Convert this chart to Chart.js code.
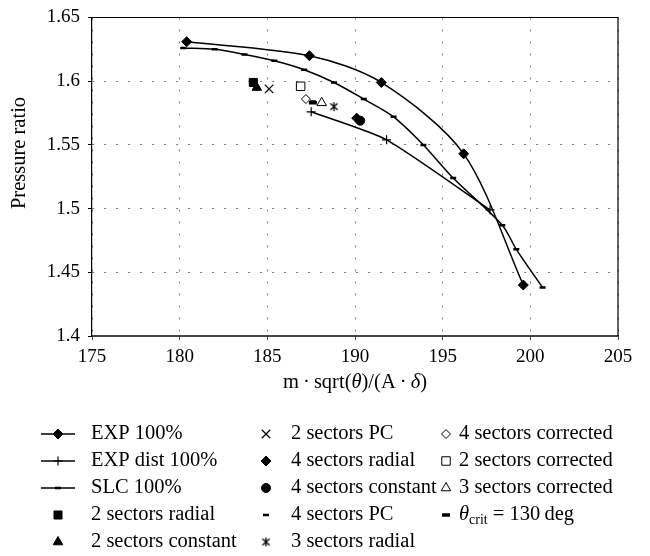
<!DOCTYPE html>
<html>
<head>
<meta charset="utf-8">
<script src="https://cdn.jsdelivr.net/npm/chart.js@4.4.0/dist/chart.umd.min.js"></script>
<style>
  body { margin: 0; background: #fff; }
  #wrap { width: 650px; height: 556px; }
</style>
</head>
<body>
<div id="wrap"><canvas id="chartPressure"></canvas></div>
<script>
// Curves
const expX = [180.4, 187.4, 191.5, 196.2, 199.6];
const expY = [1.631, 1.620, 1.599, 1.543, 1.440];
const distX = [187.5, 191.8, 197.7];
const distY = [1.576, 1.554, 1.499];
const slcX = [180.2, 182.0, 183.7, 185.4, 187.1, 188.8, 190.5, 192.2, 193.9, 195.6, 198.4, 199.2, 200.7];
const slcY = [1.626, 1.625, 1.621, 1.616, 1.609, 1.599, 1.586, 1.572, 1.550, 1.524, 1.487, 1.468, 1.438];

// Single runs [x, y]
const sec2Radial = [184.2, 1.599];
const sec2Constant = [184.4, 1.595];
const sec2PC = [185.1, 1.594];
const sec4Radial = [190.1, 1.571];
const sec4Constant = [190.3, 1.569];
const sec4PC = [187.6, 1.584];
const sec3Radial = [188.8, 1.580];
const sec4Corrected = [187.2, 1.586];
const sec2Corrected = [186.9, 1.596];
const sec3Corrected = [188.1, 1.583];
const thetaCrit = [187.6, 1.583];

const xTicks = [175, 180, 185, 190, 195, 200, 205];
const yTicks = [1.4, 1.45, 1.5, 1.55, 1.6, 1.65];

const serif = '"Liberation Serif", "Times New Roman", serif';
const textFont = "20.5px " + serif;
Chart.defaults.font.family = serif;
Chart.defaults.font.size = 19;
Chart.defaults.color = "#000";

function xy(xs, ys) {
  return xs.map((x, i) => ({ x: x, y: ys[i] }));
}

// asterisk: an X with a vertical bar
function makeAsterisk(size) {
  const c = document.createElement("canvas");
  c.width = size;
  c.height = size;
  const g = c.getContext("2d");
  const m = size / 2;
  const r = size / 2 - 1;
  g.strokeStyle = "#000";
  g.lineWidth = 1.3;
  g.beginPath();
  g.moveTo(m - r * 0.8, m - r * 0.7);
  g.lineTo(m + r * 0.8, m + r * 0.7);
  g.moveTo(m + r * 0.8, m - r * 0.7);
  g.lineTo(m - r * 0.8, m + r * 0.7);
  g.moveTo(m, m - r);
  g.lineTo(m, m + r);
  g.stroke();
  return c;
}

function single(label, pt, style, radius, opts) {
  return Object.assign({
    label: label,
    data: [{ x: pt[0], y: pt[1] }],
    pointStyle: style,
    pointRadius: radius,
    pointBackgroundColor: "#000",
    pointBorderColor: "#000",
    pointBorderWidth: 1,
    showLine: false,
  }, opts || {});
}

const datasets = [
  {
    label: "EXP 100%",
    data: xy(expX, expY),
    showLine: true,
    tension: 0.3,
    borderColor: "#000",
    borderWidth: 1.5,
    pointStyle: "rectRot",
    pointRadius: 5,
    pointBackgroundColor: "#000",
    pointBorderColor: "#000",
    pointBorderWidth: 1,
  },
  {
    label: "EXP dist 100%",
    data: xy(distX, distY),
    showLine: true,
    tension: 0.2,
    borderColor: "#000",
    borderWidth: 1.5,
    pointStyle: "cross",
    pointRadius: 4.5,
    pointBorderColor: "#000",
    pointBorderWidth: 1.2,
  },
  {
    label: "SLC 100%",
    data: xy(slcX, slcY),
    showLine: true,
    tension: 0.3,
    borderColor: "#000",
    borderWidth: 1.5,
    pointStyle: "line",
    pointRadius: 3,
    pointBorderColor: "#000",
    pointBorderWidth: 2.5,
  },
  single("2 sectors radial", sec2Radial, "rect", 5.7),
  single("2 sectors constant", sec2Constant, "triangle", 5.5),
  single("2 sectors PC", sec2PC, "crossRot", 6, { pointBorderWidth: 1.2 }),
  single("4 sectors radial", sec4Radial, "rectRot", 5),
  single("4 sectors constant", sec4Constant, "circle", 4.5),
  single("4 sectors PC", sec4PC, "line", 3, { pointBorderWidth: 2.5 }),
  single("3 sectors radial", sec3Radial, makeAsterisk(11), 5),
  single("4 sectors corrected", sec4Corrected, "rectRot", 4.5, { pointBackgroundColor: "#fff" }),
  single("2 sectors corrected", sec2Corrected, "rect", 6, { pointBackgroundColor: "#fff" }),
  single("3 sectors corrected", sec3Corrected, "triangle", 5.5, { pointBackgroundColor: "#fff" }),
  single("θcrit = 130 deg", thetaCrit, "line", 4, { pointBorderWidth: 3.5 }),
];

// legend laid out in three columns under the plot
const legendCols = [
  { mark: 58, text: 91, items: [0, 1, 2, 3, 4] },
  { mark: 266, text: 291, items: [5, 6, 7, 8, 9] },
  { mark: 446, text: 459, items: [10, 11, 12, 13] },
];
const legendRows = [434, 461, 488, 515, 542];

const legendPlugin = {
  id: "colLegend",
  afterDraw(chart) {
    const ctx = chart.ctx;
    ctx.save();
    legendCols.forEach((col) => {
      col.items.forEach((di, row) => {
        const ds = chart.data.datasets[di];
        const y = legendRows[row];
        if (ds.showLine) {
          ctx.strokeStyle = "#000";
          ctx.lineWidth = 1.5;
          ctx.beginPath();
          ctx.moveTo(col.mark - 17, y);
          ctx.lineTo(col.mark + 17, y);
          ctx.stroke();
        }
        ctx.fillStyle = ds.pointBackgroundColor || "#000";
        ctx.strokeStyle = ds.pointBorderColor || "#000";
        ctx.lineWidth = ds.pointBorderWidth;
        Chart.helpers.drawPoint(ctx, {
          pointStyle: ds.pointStyle,
          radius: ds.pointRadius,
          borderWidth: ds.pointBorderWidth,
          rotation: 0,
        }, col.mark, y);

        ctx.fillStyle = "#000";
        ctx.textBaseline = "middle";
        ctx.textAlign = "left";
        if (di === 13) {
          let x = col.text;
          ctx.font = "italic " + textFont;
          ctx.fillText("θ", x, y);
          x += ctx.measureText("θ").width;
          ctx.font = "14px " + serif;
          ctx.fillText("crit", x, y + 5);
          x += ctx.measureText("crit").width;
          ctx.font = textFont;
          ctx.fillText(" = 130\u2009deg", x, y);
        } else {
          ctx.font = textFont;
          ctx.fillText(ds.label, col.text, y);
        }
      });
    });
    ctx.restore();
  },
};

// top/right frame and axis titles
const framePlugin = {
  id: "frame",
  beforeDatasetsDraw(chart) {
    const { ctx, chartArea: a } = chart;
    ctx.save();
    ctx.strokeStyle = "#000";
    ctx.lineWidth = 1.2;
    ctx.beginPath();
    ctx.moveTo(a.left, a.top);
    ctx.lineTo(a.right, a.top);
    ctx.lineTo(a.right, a.bottom);
    ctx.stroke();
    ctx.restore();
  },
  afterDraw(chart) {
    const { ctx, chartArea: a } = chart;
    ctx.save();
    ctx.fillStyle = "#000";
    ctx.textBaseline = "middle";

    // x title with italic greek letters
    const parts = [
      ["m\u2009·\u2009sqrt(", false], ["θ", true], [")/(A\u2009·\u2009", false], ["δ", true], [")", false],
    ];
    let w = 0;
    parts.forEach((p) => {
      ctx.font = (p[1] ? "italic " : "") + textFont;
      w += ctx.measureText(p[0]).width;
    });
    let x = (a.left + a.right) / 2 - w / 2;
    ctx.textAlign = "left";
    parts.forEach((p) => {
      ctx.font = (p[1] ? "italic " : "") + textFont;
      ctx.fillText(p[0], x, 383);
      x += ctx.measureText(p[0]).width;
    });

    // y title
    ctx.font = textFont;
    ctx.textAlign = "center";
    ctx.translate(20, 153);
    ctx.rotate(-Math.PI / 2);
    ctx.fillText("Pressure ratio", 0, 0);
    ctx.restore();
  },
};

new Chart(document.getElementById("chartPressure"), {
  type: "scatter",
  data: { datasets: datasets },
  options: {
    responsive: true,
    maintainAspectRatio: false,
    animation: false,
    layout: { padding: { top: 10, right: 32, left: 0, bottom: 0 } },
    plugins: {
      legend: { display: false },
      tooltip: { enabled: false },
    },
    scales: {
      x: {
        type: "linear",
        min: xTicks[0],
        max: xTicks[xTicks.length - 1],
        afterBuildTicks: (s) => { s.ticks = xTicks.map((v) => ({ value: v })); },
        ticks: { padding: 6, color: "#000" },
        grid: { color: "#777", lineWidth: 1, tickLength: 4, tickColor: "#444", tickWidth: 1 },
        border: { color: "#444", width: 2, dash: [2, 10] },
        afterFit: (s) => { s.height = 220; },
      },
      y: {
        type: "linear",
        min: yTicks[0],
        max: yTicks[yTicks.length - 1],
        afterBuildTicks: (s) => { s.ticks = yTicks.map((v) => ({ value: v })); },
        ticks: {
          padding: 8,
          color: "#000",
          font: { lineHeight: 1 },
          callback: (v) => String(+v.toFixed(2)),
        },
        grid: { color: "#777", lineWidth: 1, tickLength: 4, tickColor: "#000", tickWidth: 1 },
        border: { color: "#000", width: 1.2, dash: [2, 10] },
        afterFit: (s) => { s.width = 92; },
      },
    },
  },
  plugins: [framePlugin, legendPlugin],
});
</script>
</body>
</html>
